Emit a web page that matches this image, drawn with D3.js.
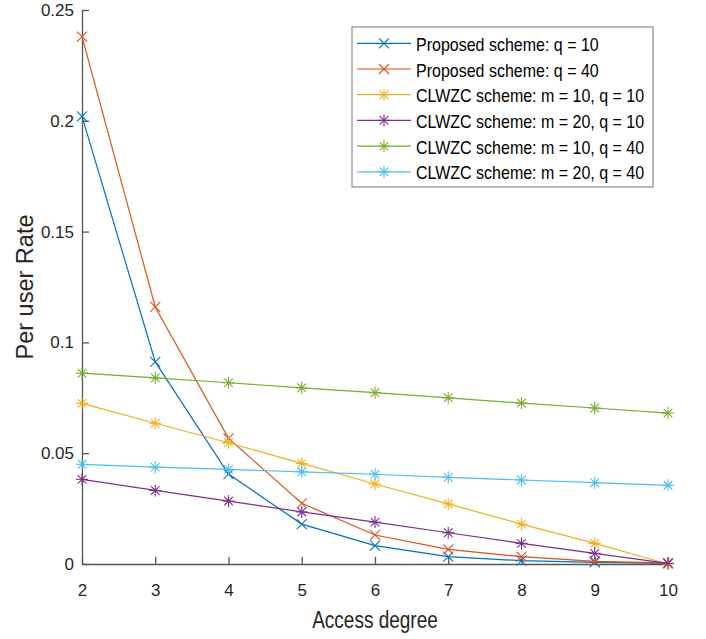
<!DOCTYPE html>
<html><head><meta charset="utf-8">
<script src="https://cdn.jsdelivr.net/npm/d3@7"></script>
<style>body{margin:0;background:#fff}svg{display:block}text{font-family:"Liberation Sans",Arial,sans-serif}</style>
</head><body>
<svg id="c" width="706" height="639"></svg>
<script>
const accessDegree = [2,3,4,5,6,7,8,9,10];
const seriesNames = ["Proposed scheme: q = 10","Proposed scheme: q = 40","CLWZC scheme: m = 10, q = 10","CLWZC scheme: m = 20, q = 10","CLWZC scheme: m = 10, q = 40","CLWZC scheme: m = 20, q = 40"];
const proposedQ10 = [0.202,0.0912,0.0406,0.018,0.0083,0.0033,0.0015,0.0007,0.0003];
const proposedQ40 = [0.238,0.116,0.0567,0.0274,0.0131,0.0066,0.0033,0.0012,0.0005];
const clwzcM10Q10 = [0.0725,0.0635,0.0547,0.0454,0.0361,0.0271,0.018,0.0093,0.0];
const clwzcM20Q10 = [0.0382,0.0332,0.0284,0.0235,0.0189,0.0141,0.0093,0.0048,0.0003];
const clwzcM10Q40 = [0.0861,0.084,0.0818,0.0795,0.0773,0.075,0.0726,0.0704,0.0681];
const clwzcM20Q40 = [0.045,0.0437,0.0427,0.0416,0.0405,0.0391,0.0379,0.0367,0.0355];
const yTicks = [0,0.05,0.1,0.15,0.2,0.25];
const yTickLabels = ["0","0.05","0.1","0.15","0.2","0.25"];
const colors = ["#0072BD","#D95319","#EDB120","#7E2F8E","#77AC30","#4DBEEE"];
const markers = ["x","x","*","*","*","*"];
const allSeries = [proposedQ10,proposedQ40,clwzcM10Q10,clwzcM20Q10,clwzcM10Q40,clwzcM20Q40];

const svg = d3.select("#c");
const x = d3.scaleLinear().domain([2,10]).range([82,668]);
const y = d3.scaleLinear().domain([0,0.25]).range([564,10]);
const axisColor = "#555";
const textColor = "#262626";

// axes
const gx = svg.append("g").attr("transform",`translate(0,${y(0)})`)
  .call(d3.axisBottom(x).tickValues(accessDegree).tickFormat(d3.format("d")).tickSizeInner(-7).tickSizeOuter(0).tickPadding(20));
const gy = svg.append("g").attr("transform",`translate(${x(2)},0)`)
  .call(d3.axisLeft(y).tickValues(yTicks).tickFormat((d,i)=>yTickLabels[i]).tickSizeInner(-7).tickSizeOuter(0).tickPadding(8));
[gx,gy].forEach(g=>{
  g.selectAll("path.domain").attr("stroke",axisColor).attr("stroke-width",1.3);
  g.selectAll(".tick line").attr("stroke",axisColor).attr("stroke-width",1.3);
  g.selectAll(".tick text").attr("fill",textColor).style("font-size","17px");
});

function stretchedText(parent,tx,ty,sy,size,str,anchor,fill){
  return parent.append("text").attr("transform",`translate(${tx},${ty}) scale(1,${sy})`)
    .attr("text-anchor",anchor).attr("fill",fill).style("font-size",size+"px").text(str);
}
stretchedText(svg,375,628,1.28,19,"Access degree","middle",textColor);
svg.append("text").attr("transform","translate(33,287) rotate(-90)").attr("text-anchor","middle")
  .attr("fill",textColor).style("font-size","23.5px").text("Per user Rate");

function drawMarker(g,type,cx,cy,color){
  const s = type==="x"?5:6;
  let segs;
  if(type==="x") segs=[[-s,-s,s,s],[-s,s,s,-s]];
  else { const d=s*0.72; segs=[[-s,0,s,0],[0,-s,0,s],[-d,-d,d,d],[-d,d,d,-d]]; }
  segs.forEach(p=>g.append("line").attr("x1",cx+p[0]).attr("y1",cy+p[1]).attr("x2",cx+p[2]).attr("y2",cy+p[3])
    .attr("stroke",color).attr("stroke-width",1.1));
}

const line = d3.line().x((d,i)=>x(accessDegree[i])).y(d=>y(d));
allSeries.forEach((vals,k)=>{
  const g = svg.append("g");
  g.append("path").attr("d",line(vals)).attr("fill","none").attr("stroke",colors[k]).attr("stroke-width",1.2);
  vals.forEach((v,i)=>drawMarker(g,markers[k],x(accessDegree[i]),y(v),colors[k]));
});

// legend
const lg = svg.append("g");
lg.append("rect").attr("x",352).attr("y",27).attr("width",301).attr("height",160)
  .attr("fill","#fff").attr("stroke","#777").attr("stroke-width",1);
seriesNames.forEach((name,k)=>{
  const cy = 43.3 + k*25.7;
  lg.append("line").attr("x1",357).attr("x2",411).attr("y1",cy).attr("y2",cy).attr("stroke",colors[k]).attr("stroke-width",1.2);
  drawMarker(lg,markers[k],384,cy,colors[k]);
  stretchedText(lg,416,cy+7.6,1.19,16,name,"start","#000");
});
</script>
</body></html>
